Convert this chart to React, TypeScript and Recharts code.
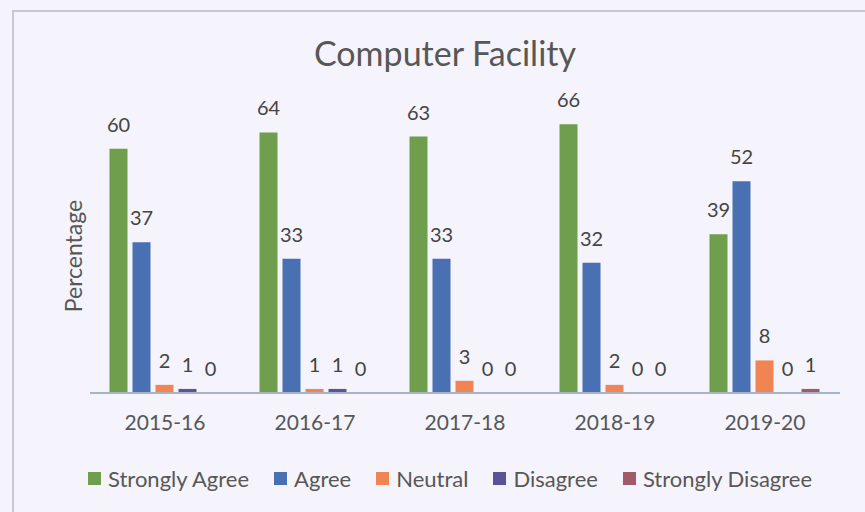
import React from 'react';
import { Bar, BarChart, LabelList, XAxis, YAxis } from 'recharts';

const years = ['2015-16', '2016-17', '2017-18', '2018-19', '2019-20'];
const stronglyAgree = [60, 64, 63, 66, 39];
const agree = [37, 33, 33, 32, 52];
const neutral = [2, 1, 3, 2, 8];
const disagree = [1, 1, 0, 0, 0];
const stronglyDisagree = [0, 0, 0, 0, 1];

const series = [
	{ key: 'sa', name: 'Strongly Agree', color: '#6f9f4c' },
	{ key: 'a', name: 'Agree', color: '#4a70b4' },
	{ key: 'n', name: 'Neutral', color: '#f08553' },
	{ key: 'd', name: 'Disagree', color: '#5b5399' },
	{ key: 'sd', name: 'Strongly Disagree', color: '#a05a68' }
];

const data = years.map((year, i) => ({
	year,
	sa: stronglyAgree[i],
	a: agree[i],
	n: neutral[i],
	d: disagree[i],
	sd: stronglyDisagree[i]
}));

const FONT = 'Lato, "Open Sans", sans-serif';
const TEXT = '#575757';

export default function App() {
	return (
		<div style={{ position: 'fixed', left: 0, top: 0, width: 865, height: 512, background: '#f5f3fb', fontFamily: FONT, overflow: 'hidden' }}>
			<div style={{ position: 'absolute', left: 12, top: 10, width: 860, height: 520, borderTop: '2px solid #c9c7cf', borderLeft: '2px solid #c9c7cf' }} />
			<div style={{ position: 'absolute', left: 0, width: 890, top: 33, textAlign: 'center', fontSize: 34, color: TEXT, lineHeight: '40px' }}>Computer Facility</div>
			<div
				style={{
					position: 'absolute',
					left: 73,
					top: 256,
					transform: 'translate(-50%, -50%) rotate(-90deg)',
					fontSize: 23,
					color: TEXT,
					whiteSpace: 'nowrap'
				}}
			>
				Percentage
			</div>
			<div style={{ position: 'absolute', left: 0, top: 0 }}>
				<BarChart
					width={865}
					height={512}
					data={data}
					margin={{ top: 108, right: 25, left: 90, bottom: 79 }}
					barCategoryGap='13%'
					barGap={5}
				>
					<XAxis
						dataKey='year'
						axisLine={{ stroke: '#a8b4c6', strokeWidth: 2 }}
						tickLine={false}
						tick={{ fontSize: 21, fill: TEXT, fontFamily: FONT, dy: 14 }}
						height={40}
					/>
					<YAxis
						hide
						domain={[0, 70]}
					/>
					{series.map((s) => (
						<Bar
							key={s.key}
							dataKey={s.key}
							name={s.name}
							fill={s.color}
							minPointSize={0.01}
							isAnimationActive={false}
						>
							<LabelList
								dataKey={s.key}
								position='top'
								offset={17}
								style={{ fontSize: 20, fill: '#444', fontFamily: FONT }}
							/>
						</Bar>
					))}
				</BarChart>
			</div>
			<div style={{ position: 'absolute', left: 88, top: 465, display: 'flex', alignItems: 'center', gap: 25, fontSize: 22, color: TEXT, whiteSpace: 'nowrap' }}>
				{series.map((s) => (
					<div
						key={s.key}
						style={{ display: 'flex', alignItems: 'center', gap: 7 }}
					>
						<span style={{ width: 13, height: 13, background: s.color, display: 'inline-block' }} />
						<span>{s.name}</span>
					</div>
				))}
			</div>
		</div>
	);
}
